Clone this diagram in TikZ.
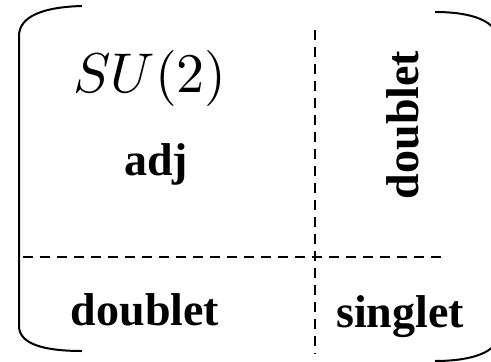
\documentclass[tikz,border=0pt]{standalone}
\usepackage{fontspec}
\setmainfont{Liberation Serif}
\usepackage{tikz}
\usetikzlibrary{positioning}
\tikzstyle{rep} = [inner sep=0pt, anchor=base, font=\fontsize{46}{50}\selectfont\bfseries]
\tikzstyle{group} = [inner sep=0pt, anchor=base, scale=5.6]
\tikzstyle{divider} = [line width=2.2pt, dash pattern=on 10pt off 7pt]
\tikzstyle{bracket} = [line width=2pt]

\begin{document}
\begin{tikzpicture}[x=1pt, y=-1pt]
    \useasboundingbox (0,0) rectangle (491,362);

    % === Dividers ===
    \coordinate (vtop) at (315,30);
    \coordinate (vbot) at (315,354);
    \coordinate (hleft) at (23,257);
    \coordinate (hright) at (448,257);
    \draw [divider] (vtop) -- (vbot);
    \draw [divider] (hleft) -- (hright);

    % === Brackets ===
    \draw [bracket] (82,6) .. controls (44,7) and (19,16) .. (19,36) -- (19,326)
        .. controls (19,344) and (44,351) .. (82,351);
    \draw [bracket] (435,12) .. controls (472,12) and (498,21) .. (498,41) -- (498,335)
        .. controls (498,352) and (472,361) .. (435,361);

    % === Labels ===
    \node (su) [group] at (150,92) {$SU(2)$};
    \node (adj) [rep] at (156,175) {adj};
    \node (dbright) [rep, rotate=90] at (418,125) {doublet};
    \node (dbleft) [rep] at (145,325) {doublet};
    \node (singlet) [rep] at (400,327) {singlet};

\end{tikzpicture}
\end{document}
